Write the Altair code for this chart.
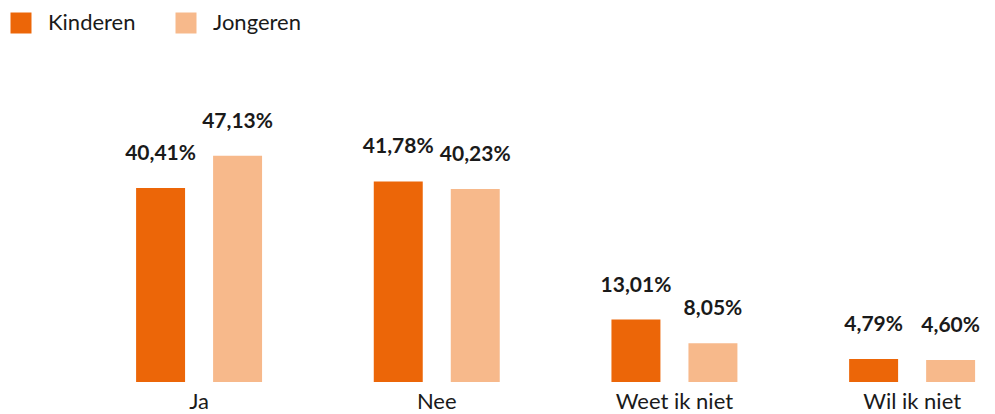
import altair as alt
import pandas as pd

categories = ["Ja", "Nee", "Weet ik niet", "Wil ik niet"]
groups = ["Kinderen", "Jongeren"]
kinderen = [40.41, 41.78, 13.01, 4.79]
jongeren = [47.13, 40.23, 8.05, 4.60]
colors = ["#EC6608", "#F7B98B"]

rows = []
for c, k, j in zip(categories, kinderen, jongeren):
    for g, v in zip(groups, [k, j]):
        rows.append({"cat": c, "grp": g, "val": v,
                     "lbl": f"{v:.2f}".replace(".", ",") + "%"})
df = pd.DataFrame(rows)

FONT = "Lato"

x = alt.X("cat:N", sort=categories, title=None,
          scale=alt.Scale(paddingInner=0.47, paddingOuter=0.2945, align=0.915),
          axis=alt.Axis(labelAngle=0, domain=False, ticks=False, labelFont=FONT,
                        labelFontSize=22, labelColor="#1a1a1a", labelPadding=9,
                        labelBaseline="top", grid=False))
xo = alt.XOffset("grp:N", sort=groups, scale=alt.Scale(paddingInner=0.364, paddingOuter=0))
y = alt.Y("val:Q", scale=alt.Scale(domain=[0, 55], nice=False), axis=None)

bars = alt.Chart(df).mark_bar().encode(
    x=x, xOffset=xo, y=y,
    color=alt.Color("grp:N", sort=groups,
                    scale=alt.Scale(domain=groups, range=colors),
                    legend=alt.Legend(title=None, orient="none", direction="horizontal",
                                      legendX=2, legendY=-106, padding=0,
                                      symbolType="square", symbolSize=441,
                                      symbolStrokeWidth=0, symbolOpacity=1,
                                      labelFont=FONT, labelFontSize=22,
                                      labelColor="#1a1a1a", labelOffset=16,
                                      columnPadding=39)),
)

labels = alt.Chart(df).mark_text(font=FONT, fontSize=21, fontWeight="bold",
                                 color="#1a1a1a", baseline="middle", dy=-34).encode(
    x=x, xOffset=xo, y=y, text="lbl:N"
)

chart = (bars + labels).properties(
    width=979, height=264, autosize="none",
    padding={"left": 0, "top": 110, "right": 0, "bottom": 32},
).configure_view(stroke=None)

chart.save("out.html", embed_options={"renderer": "svg", "actions": False})
